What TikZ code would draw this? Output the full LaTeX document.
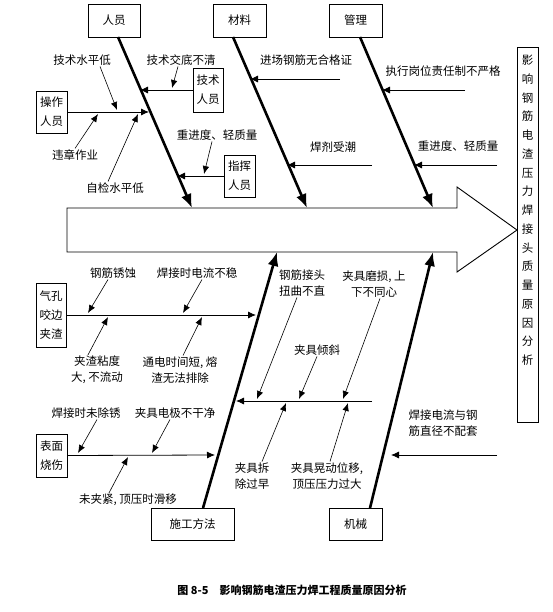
\documentclass[tikz,border=0pt]{standalone}
\usepackage{fontspec}
\usepackage{tikz}
\usetikzlibrary{arrows.meta}
\newfontfamily\cjk{Noto Sans CJK SC}
\tikzset{
  base/.style={font=\cjk\fontsize{11.5}{16}\selectfont, align=center, inner sep=1pt},
  box/.style={base, rectangle, draw, line width=0.7pt},
  cbox/.style={box, font=\cjk\fontsize{11.5}{19}\selectfont},
  bone/.style={line width=2.6pt, -{Latex[length=14pt,width=11pt]}},
  branch/.style={line width=0.8pt, -{Latex[length=8pt,width=7pt]}},
  sarr/.style={line width=0.6pt, -{Latex[length=8pt,width=6.5pt]}},
  lbl/.style={base},
}
\begin{document}
\begin{tikzpicture}[x=1pt,y=-1pt]
  \useasboundingbox (0,0) rectangle (553,612);
  % spine
  \draw[line width=0.9pt] (67,208) -- (457,208) -- (457,187) -- (517,230) -- (457,272) -- (457,252) -- (67,252) -- cycle;
  % effect
  \node[box,minimum width=21,minimum height=375,inner sep=0pt] (res) at (527.5,234.5) {};
  \node[base,anchor=north,font=\cjk\fontsize{11.5}{18.75}\selectfont] (restxt) at (527.5,54) {影\\响\\钢\\筋\\电\\渣\\压\\力\\焊\\接\\头\\质\\量\\原\\因\\分\\析};
  % main causes
  \node[box,minimum width=52,minimum height=33] (ry) at (114,20.5) {人员};
  \node[box,minimum width=53,minimum height=33] (cl) at (239.5,20.5) {材料};
  \node[box,minimum width=53,minimum height=33] (gl) at (355.5,20.5) {管理};
  \node[box,minimum width=83,minimum height=32] (sg) at (192.5,524) {施工方法};
  \node[box,minimum width=53,minimum height=32] (jx) at (355.5,524) {机械};
  \coordinate (ryS) at (118,37);  \coordinate (ryT) at (192,208);
  \coordinate (clS) at (233,37);  \coordinate (clT) at (307,208);
  \coordinate (glS) at (360,37);  \coordinate (glT) at (433,208);
  \coordinate (sgS) at (203,508); \coordinate (sgT) at (277,252);
  \coordinate (jxS) at (370,508); \coordinate (jxT) at (433,252);
  \draw[bone] (ryS) -- (ryT);
  \draw[bone] (clS) -- (clT);
  \draw[bone] (glS) -- (glT);
  \draw[bone] (sgS) -- (sgT);
  \draw[bone] (jxS) -- (jxT);
  % sub boxes
  \node[cbox,minimum width=31,minimum height=42] (cz) at (51.5,112) {操作\\人员};
  \node[cbox,minimum width=30,minimum height=44] (js) at (208,90) {技术\\人员};
  \node[cbox,minimum width=31,minimum height=42] (zh) at (239.5,176) {指挥\\人员};
  \node[cbox,minimum width=30,minimum height=64] (qk) at (51,315) {气孔\\咬边\\夹渣};
  \node[cbox,minimum width=31,minimum height=43] (bm) at (51.5,455.5) {表面\\烧伤};
  % branches
  \coordinate (r1) at (140,90);  \draw[branch] (js.west) -- (r1);
  \coordinate (r2) at (149,112); \draw[branch] (cz.east) -- (r2);
  \coordinate (r3) at (177,176); \draw[branch] (zh.west) -- (r3);
  \coordinate (c1a) at (340,79);  \coordinate (c1) at (250,79);  \draw[branch] (c1a) -- (c1);
  \coordinate (c2a) at (372,165); \coordinate (c2) at (287,165); \draw[branch] (c2a) -- (c2);
  \coordinate (g1a) at (465,90);  \coordinate (g1) at (382,90);  \draw[branch] (g1a) -- (g1);
  \coordinate (g2a) at (497,165); \coordinate (g2) at (414,165); \draw[branch] (g2a) -- (g2);
  \coordinate (s1) at (256,315); \draw[branch] (qk.east) -- (s1);
  \coordinate (s2a) at (372,401); \coordinate (s2) at (236,401); \draw[branch] (s2a) -- (s2);
  \coordinate (s3) at (215,455); \draw[branch] (bm.east) -- (s3);
  \coordinate (j1a) at (497,455); \coordinate (j1) at (391,455); \draw[branch] (j1a) -- (j1);
  % labels, top
  \node[lbl] (t1) at (82,60) {技术水平低};
  \node[lbl] (t2) at (181,60) {技术交底不清};
  \node[lbl] (t3) at (75,155) {违章作业};
  \node[lbl] (t4) at (115,188) {自检水平低};
  \node[lbl] (t5) at (217,135) {重进度、轻质量};
  \node[lbl] (t6) at (306,60) {进场钢筋无合格证};
  \node[lbl] (t7) at (333,147) {焊剂受潮};
  \node[lbl] (t8) at (443,71) {执行岗位责任制不严格};
  \node[lbl] (t9) at (458,146) {重进度、轻质量};
  % labels, bottom
  \node[lbl] (b1) at (113,273) {钢筋锈蚀};
  \node[lbl] (b2) at (197,273) {焊接时电流不稳};
  \node[lbl] (b3) at (97,370) {夹渣粘度\\大, 不流动};
  \node[lbl] (b4) at (180,370) {通电时间短, 熔\\渣无法排除};
  \node[lbl] (b5) at (86,413) {焊接时未除锈};
  \node[lbl] (b6) at (175,413) {夹具电极不干净};
  \node[lbl] (b7) at (128,500) {未夹紧, 顶压时滑移};
  \node[lbl] (b8) at (302,283) {钢筋接头\\扭曲不直};
  \node[lbl] (b9) at (374,284) {夹具磨损, 上\\下不同心};
  \node[lbl] (b10) at (317,350) {夹具倾斜};
  \node[lbl] (b11) at (252,476) {夹具拆\\除过早};
  \node[lbl] (b12) at (327,476) {夹具晃动位移,\\顶压压力过大};
  \node[lbl,align=left] (b13) at (443,423) {焊接电流与钢\\筋直径不配套};
  % small arrows
  \coordinate (p1) at (117,110); \draw[sarr] ([xshift=18]t1.south) -- (p1);
  \coordinate (p2) at (172,88);  \draw[sarr] ([xshift=-3]t2.south) -- (p2);
  \coordinate (p3) at (98,114);  \draw[sarr] (t3.north) -- (p3);
  \coordinate (p4) at (138,114); \draw[sarr] ([xshift=-7]t4.north) -- (p4);
  \coordinate (p5) at (204,174); \draw[sarr] ([xshift=-5]t5.south) -- (p5);
  \coordinate (q1) at (88,313);  \draw[sarr] ([xshift=-5]b1.south) -- (q1);
  \coordinate (q2) at (183,313); \draw[sarr] ([xshift=5]b2.south) -- (q2);
  \coordinate (q3) at (108,317); \draw[sarr] ([xshift=-9]b3.north) -- (q3);
  \coordinate (q4) at (202,317); \draw[sarr] ([xshift=3]b4.north) -- (q4);
  \coordinate (q5) at (78,453);  \draw[sarr] ([xshift=11]b5.south) -- (q5);
  \coordinate (q6) at (152,453); \draw[sarr] ([xshift=-5]b6.south) -- (q6);
  \coordinate (q7) at (128,457); \draw[sarr] ([xshift=-19]b7.north) -- (q7);
  \coordinate (q8) at (257,399); \draw[sarr] ([xshift=-5]b8.south) -- (q8);
  \coordinate (q9) at (343,399); \draw[sarr] ([xshift=6]b9.south) -- (q9);
  \coordinate (q10) at (299,399); \draw[sarr] (b10.south) -- (q10);
  \coordinate (q11) at (286,403); \draw[sarr] ([xshift=10]b11.north) -- (q11);
  \coordinate (q12) at (348,403); \draw[sarr] ([xshift=3]b12.north) -- (q12);
  % caption
  \node[base,font=\cjk\bfseries\fontsize{11}{13}\selectfont] (cap) at (292,590) {图 8-5\quad 影响钢筋电渣压力焊工程质量原因分析};
\end{tikzpicture}
\end{document}
